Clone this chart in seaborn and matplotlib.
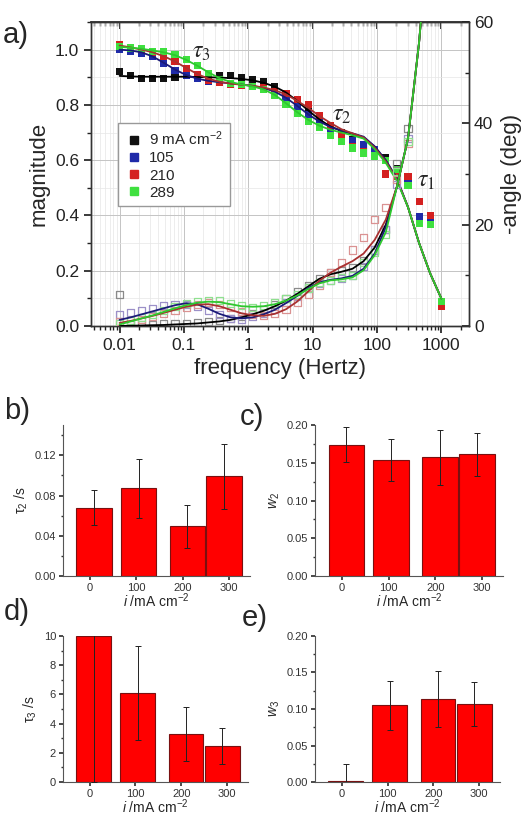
import numpy as np
import pandas as pd
import matplotlib
matplotlib.use('Agg')
import matplotlib.pyplot as plt
from matplotlib.ticker import LogLocator, MultipleLocator, FormatStrFormatter, NullFormatter
from matplotlib.lines import Line2D
import seaborn as sns

sns.set_theme(style='ticks')
plt.rcParams['font.family'] = ['Liberation Sans', 'DejaVu Sans']
plt.rcParams['mathtext.fontset'] = 'custom'
plt.rcParams['mathtext.rm'] = 'Liberation Sans'
plt.rcParams['mathtext.it'] = 'Liberation Sans:italic'

# ---- panel a data ----
freq = [0.01, 0.01487, 0.02212, 0.0329, 0.04894, 0.07279, 0.1083, 0.161, 0.2395, 0.3562,
        0.5298, 0.788, 1.172, 1.743, 2.593, 3.857, 5.736, 8.532, 12.69, 18.88,
        28.07, 41.76, 62.11, 92.37, 137.4, 204.4, 304.0, 452.2, 672.6, 1000.0]
series = ['9 mA cm$^{-2}$', '105', '210', '289']

# magnitude, measured (filled squares)
mag_9 = [0.921, 0.908, 0.895, 0.895, 0.895, 0.900, 0.905, 0.905, 0.910, 0.905, 0.905, 0.900, 0.891, 0.885, 0.867,
         0.840, 0.810, 0.775, 0.745, 0.720, 0.700, 0.675, 0.655, 0.640, 0.610, 0.570, 0.525, 0.370, 0.375, 0.080]
mag_105 = [1.000, 0.995, 0.986, 0.975, 0.950, 0.925, 0.907, 0.895, 0.885, 0.880, 0.875, 0.870, 0.866, 0.860, 0.845,
           0.822, 0.795, 0.765, 0.737, 0.710, 0.690, 0.670, 0.655, 0.640, 0.600, 0.560, 0.530, 0.395, 0.380, 0.080]
mag_210 = [1.020, 1.005, 1.000, 0.990, 0.975, 0.957, 0.932, 0.910, 0.890, 0.880, 0.875, 0.872, 0.868, 0.862, 0.850,
           0.840, 0.818, 0.800, 0.763, 0.725, 0.690, 0.650, 0.630, 0.615, 0.550, 0.540, 0.540, 0.450, 0.400, 0.070]
mag_289 = [1.010, 1.006, 1.003, 0.994, 0.994, 0.984, 0.964, 0.942, 0.915, 0.891, 0.879, 0.873, 0.866, 0.855, 0.834,
           0.800, 0.770, 0.740, 0.720, 0.690, 0.668, 0.644, 0.626, 0.615, 0.600, 0.565, 0.510, 0.370, 0.366, 0.090]

# magnitude, fitted (lines)
magfit_9 = [0.905, 0.903, 0.902, 0.902, 0.902, 0.902, 0.902, 0.901, 0.900, 0.899, 0.897, 0.894, 0.889, 0.880, 0.866,
            0.845, 0.815, 0.780, 0.748, 0.722, 0.706, 0.695, 0.682, 0.648, 0.598, 0.530, 0.430, 0.300, 0.190, 0.100]
magfit_105 = [1.000, 0.997, 0.990, 0.975, 0.952, 0.928, 0.908, 0.895, 0.887, 0.882, 0.878, 0.874, 0.869, 0.861, 0.848,
              0.826, 0.797, 0.766, 0.740, 0.720, 0.707, 0.697, 0.685, 0.650, 0.600, 0.535, 0.430, 0.300, 0.190, 0.100]
magfit_210 = [1.015, 1.008, 1.000, 0.990, 0.976, 0.957, 0.934, 0.912, 0.895, 0.884, 0.877, 0.873, 0.869, 0.863, 0.853,
              0.838, 0.815, 0.790, 0.760, 0.735, 0.712, 0.697, 0.682, 0.645, 0.595, 0.530, 0.430, 0.300, 0.190, 0.100]
magfit_289 = [1.010, 1.007, 1.003, 0.997, 0.990, 0.980, 0.963, 0.942, 0.918, 0.897, 0.883, 0.874, 0.867, 0.856, 0.836,
              0.806, 0.774, 0.746, 0.725, 0.710, 0.700, 0.690, 0.678, 0.640, 0.590, 0.525, 0.430, 0.300, 0.190, 0.100]

# -angle in degrees, measured (open squares)
ph_9 = [6.3, 0.3, 0.2, 0.3, 0.4, 0.5, 0.4, 0.6, 0.8, 1.0, 1.4, 1.9, 2.5, 3.2, 4.3,
        5.5, 6.8, 8.0, 9.4, 10.5, 11.0, 11.5, 13.0, 15.0, 19.0, 32.0, 39.0, 63.0, 85.0, 110.0]
ph_105 = [2.2, 2.6, 3.0, 3.5, 4.0, 4.2, 4.3, 3.8, 3.0, 2.2, 1.5, 1.3, 1.8, 2.4, 3.3,
          4.6, 5.8, 7.5, 8.3, 9.0, 9.4, 10.0, 11.8, 15.0, 19.0, 28.0, 37.0, 63.0, 85.0, 110.0]
ph_210 = [0.8, 1.0, 1.3, 1.8, 2.4, 3.0, 3.6, 4.2, 4.6, 4.2, 3.6, 2.8, 2.3, 2.0, 2.5,
          3.3, 4.6, 6.2, 8.0, 10.5, 12.5, 15.0, 17.5, 21.0, 23.3, 29.0, 36.0, 63.0, 85.0, 110.0]
ph_289 = [0.5, 1.0, 1.6, 2.3, 3.0, 3.8, 4.4, 4.8, 5.0, 5.0, 4.5, 4.0, 3.7, 4.0, 4.6,
          5.4, 6.2, 7.5, 8.5, 9.0, 9.5, 10.0, 12.5, 14.5, 18.0, 30.5, 36.5, 63.0, 85.0, 110.0]

# -angle, fitted (lines)
phfit_9 = [0.0, 0.05, 0.1, 0.15, 0.2, 0.3, 0.4, 0.5, 0.7, 0.9, 1.2, 1.7, 2.3, 3.0, 3.9,
           5.0, 6.3, 7.8, 9.3, 10.2, 10.7, 11.3, 12.8, 15.5, 20.0, 27.5, 37.0, 56.0, 82.0, 110.0]
phfit_105 = [1.2, 1.7, 2.3, 2.9, 3.5, 4.1, 4.5, 4.3, 3.4, 2.4, 1.7, 1.5, 1.7, 2.3, 3.2,
             4.5, 5.9, 7.5, 8.6, 9.1, 9.4, 9.9, 11.3, 14.3, 19.5, 27.5, 37.0, 56.0, 82.0, 110.0]
phfit_210 = [0.6, 1.0, 1.5, 2.0, 2.6, 3.2, 3.8, 4.2, 4.3, 3.9, 3.2, 2.5, 2.1, 2.0, 2.4,
             3.3, 4.8, 6.8, 8.9, 10.5, 11.7, 12.8, 14.3, 17.0, 21.0, 27.5, 37.0, 56.0, 82.0, 110.0]
phfit_289 = [0.3, 0.9, 1.5, 2.1, 2.8, 3.5, 4.1, 4.6, 4.8, 4.7, 4.3, 3.9, 3.8, 3.9, 4.3,
             5.0, 6.0, 7.3, 8.4, 9.0, 9.2, 9.6, 11.0, 14.0, 18.5, 27.5, 37.0, 56.0, 82.0, 110.0]

# ---- bar panels data ----
currents = [9, 105, 210, 289]
tau2 = [0.068, 0.087, 0.0495, 0.099]
tau2_err = [0.017, 0.029, 0.0215, 0.032]
w2 = [0.174, 0.154, 0.157, 0.161]
w2_err = [0.023, 0.028, 0.037, 0.029]
tau3 = [10.0, 6.1, 3.3, 2.45]
tau3_err = [10.0, 3.2, 1.85, 1.25]
w3 = [0.002, 0.105, 0.114, 0.107]
w3_err = [0.023, 0.034, 0.038, 0.030]

# colours
mark_pal = ['#111111', '#1f2aa8', '#d42020', '#3fe03f']
line_pal = ['#000000', '#1a1a78', '#a83030', '#2ec82e']
open_pal = ['#8a8a8a', '#9c90c8', '#da9292', '#90e090']


def long_df(cols, name):
    # stack per-series lists into one long dataframe
    frames = []
    for s, vals in zip(series, cols):
        frames.append(pd.DataFrame({'freq': freq, name: vals, 'series': s}))
    return pd.concat(frames, ignore_index=True)


mag_df = long_df([mag_9, mag_105, mag_210, mag_289], 'mag')
magfit_df = long_df([magfit_9, magfit_105, magfit_210, magfit_289], 'fit')
ph_list = [ph_9, ph_105, ph_210, ph_289]
phfit_df = long_df([phfit_9, phfit_105, phfit_210, phfit_289], 'fit')

fig = plt.figure(figsize=(5.27, 8.18), dpi=100)

# ---------------- panel a ----------------
ax = fig.add_axes([0.1727, 0.6015, 0.7173, 0.3716])
ax.set_xscale('log')
ax2 = ax.twinx()

sns.scatterplot(data=mag_df, x='freq', y='mag', hue='series', palette=mark_pal, marker='s',
                s=26, edgecolor='none', legend=False, ax=ax, zorder=3)
sns.lineplot(data=magfit_df, x='freq', y='fit', hue='series', palette=line_pal, lw=1.3,
             legend=False, ax=ax, zorder=4)

for vals, c in zip(ph_list, open_pal):
    sns.scatterplot(x=freq, y=vals, marker='s', s=26, color=c, facecolors='none',
                    edgecolor=c, linewidth=0.9, ax=ax2, zorder=3)
sns.lineplot(data=phfit_df, x='freq', y='fit', hue='series', palette=line_pal, lw=1.3,
             legend=False, ax=ax2, zorder=4)

ax.set_xlim(0.0036, 2700)
ax.set_ylim(0, 1.1)
ax2.set_ylim(0, 60)

ax.xaxis.set_minor_locator(LogLocator(base=10, subs=np.arange(2, 10), numticks=20))
ax.xaxis.set_minor_formatter(NullFormatter())
ax.set_xticks([0.01, 0.1, 1, 10, 100, 1000])
ax.set_xticklabels(['0.01', '0.1', '1', '10', '100', '1000'])
ax.yaxis.set_major_locator(MultipleLocator(0.2))
ax.yaxis.set_minor_locator(MultipleLocator(0.1))
ax.yaxis.set_major_formatter(FormatStrFormatter('%.1f'))
ax2.yaxis.set_major_locator(MultipleLocator(20))
ax2.yaxis.set_minor_locator(MultipleLocator(10))

ax.grid(which='major', color='#c4c4c4', lw=0.7)
ax.grid(which='minor', color='#e6e6e6', lw=0.5)
ax.set_axisbelow(True)

ax.tick_params(axis='both', which='both', direction='out', labelsize=12.5, colors='#222222')
ax.tick_params(which='major', length=5)
ax.tick_params(which='minor', length=3)
ax2.tick_params(axis='y', which='both', direction='in', labelsize=12.5, colors='#222222')
ax2.tick_params(which='major', length=5)
ax2.tick_params(which='minor', length=3)
secax = ax.secondary_xaxis('top')
secax.tick_params(which='both', direction='in', labeltop=False)
secax.tick_params(which='major', length=5)
secax.tick_params(which='minor', length=3)
for a in (ax, ax2):
    for sp in a.spines.values():
        sp.set_color('#333333')
        sp.set_linewidth(1.0)

ax.set_xlabel('frequency (Hertz)', fontsize=16, labelpad=4)
ax.set_ylabel('magnitude', fontsize=16, labelpad=4)
ax2.set_ylabel('-angle (deg)', fontsize=16, labelpad=6)

ax.text(0.19, 0.99, r'$\tau_3$', fontsize=17, ha='center', va='center', math_fontfamily='stix')
ax.text(28, 0.765, r'$\tau_2$', fontsize=17, ha='center', va='center', math_fontfamily='stix')
ax.text(590, 0.523, r'$\tau_1$', fontsize=17, ha='center', va='center', math_fontfamily='stix')

handles = [Line2D([], [], marker='s', ls='none', color=c, markersize=6) for c in mark_pal]
ax2.legend(handles, series, loc='upper left', bbox_to_anchor=(0.071, 0.668), borderaxespad=0,
           frameon=True, fancybox=False, edgecolor='#999999', framealpha=1, fontsize=11,
           handletextpad=0.4, borderpad=0.45, labelspacing=0.2, handlelength=1.2)

# ---------------- bar panels ----------------
def bar_panel(rect, vals, errs, ylabel, ylim, major, minor, fmt):
    axb = fig.add_axes(rect)
    sns.barplot(x=currents, y=vals, native_scale=True, width=0.96, color='#ff0000', saturation=1,
                edgecolor='#7a1010', linewidth=0.8, errorbar=None, ax=axb)
    axb.errorbar(currents, vals, yerr=errs, fmt='none', ecolor='#222222', elinewidth=0.7,
                 capsize=2, capthick=0.7, zorder=5)
    axb.set_xlim(-58, 345)
    axb.set_ylim(*ylim)
    axb.set_xticks([0, 100, 200, 300])
    axb.set_xticklabels(['0', '100', '200', '300'])
    axb.yaxis.set_major_locator(MultipleLocator(major))
    axb.yaxis.set_minor_locator(MultipleLocator(minor))
    axb.yaxis.set_major_formatter(FormatStrFormatter(fmt))
    axb.tick_params(which='both', direction='out', labelsize=8, colors='#333333', pad=2)
    axb.tick_params(which='major', length=3)
    axb.tick_params(which='minor', length=1.5)
    sns.despine(ax=axb)
    for sp in axb.spines.values():
        sp.set_color('#555555')
        sp.set_linewidth(0.8)
    axb.set_xlabel(r'$i$ /mA cm$^{-2}$', fontsize=10, labelpad=-1)
    axb.set_ylabel(ylabel, fontsize=10, labelpad=3)
    return axb


bar_panel([0.1195, 0.2958, 0.3548, 0.1846], tau2, tau2_err, 'τ$_2$ /s', (0, 0.15), 0.04, 0.02, '%.2f')
bar_panel([0.5977, 0.2958, 0.3568, 0.1846], w2, w2_err, r'$w_2$', (0, 0.20), 0.05, 0.025, '%.2f')
bar_panel([0.1195, 0.0440, 0.3510, 0.1785], tau3, tau3_err, 'τ$_3$ /s', (0, 10), 2, 1, '%d')
bar_panel([0.5977, 0.0440, 0.3510, 0.1785], w3, w3_err, r'$w_3$', (0, 0.20), 0.05, 0.025, '%.2f')

# panel letters
for lab, x, y in [('a)', 0.006, 0.957), ('b)', 0.008, 0.498), ('c)', 0.455, 0.490),
                  ('d)', 0.008, 0.252), ('e)', 0.458, 0.245)]:
    fig.text(x, y, lab, fontsize=21, ha='left', va='center')

fig.savefig('out.png', dpi=100)
